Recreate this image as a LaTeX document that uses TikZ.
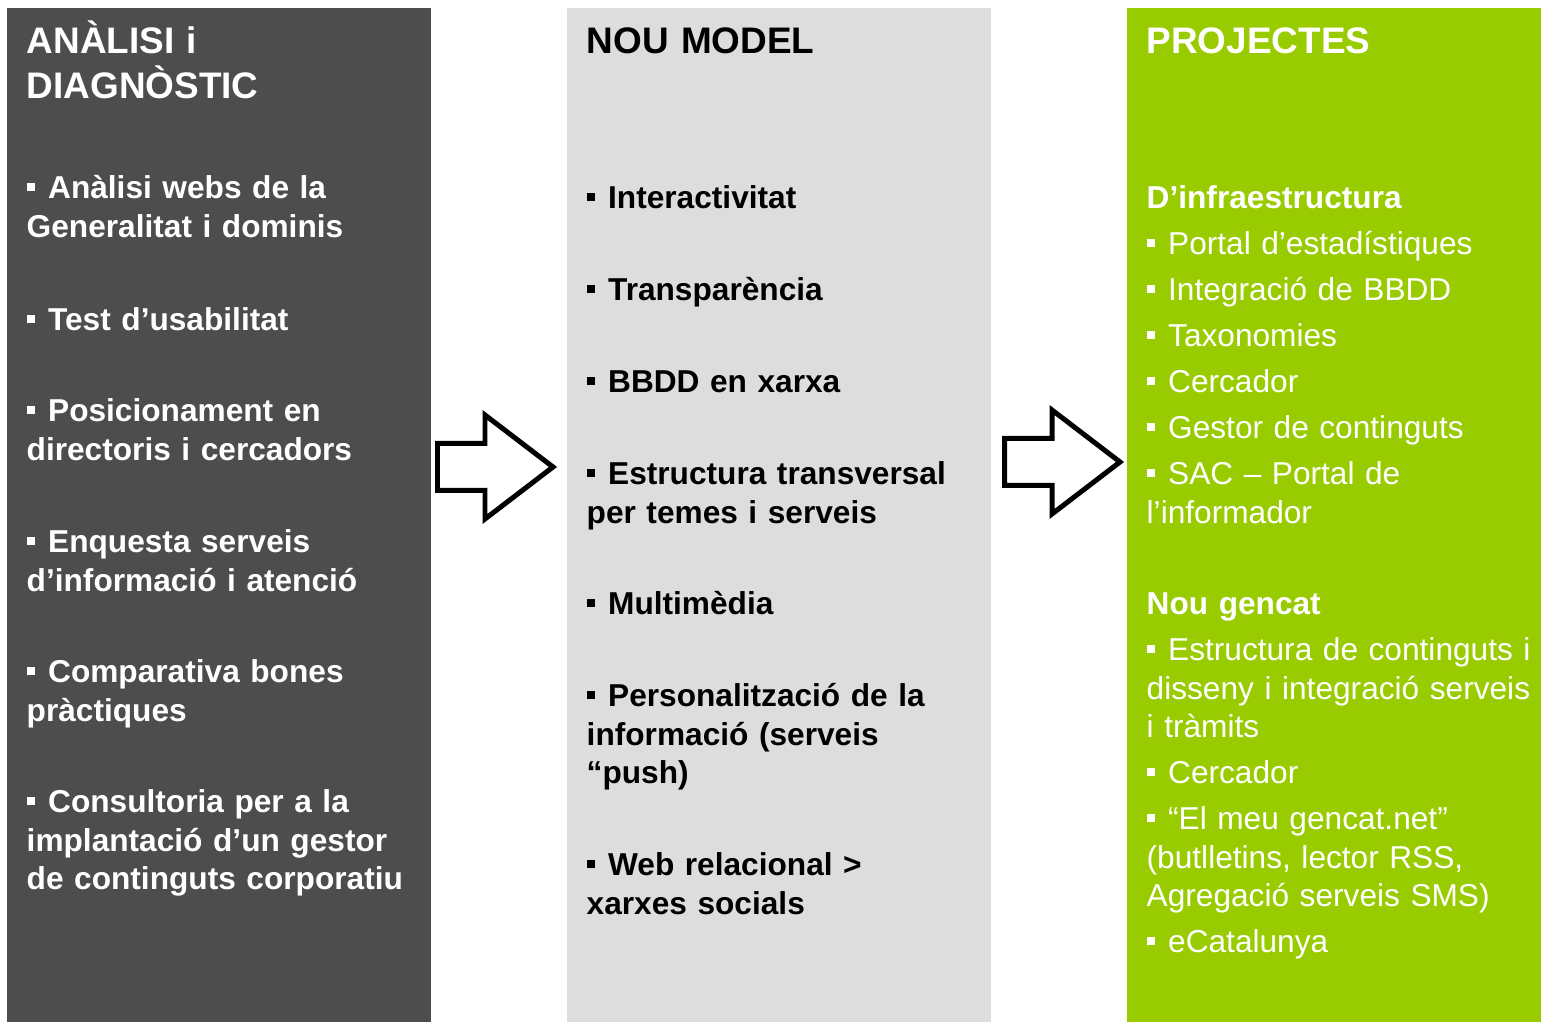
\documentclass[tikz,border=0pt]{standalone}
\usepackage{fontspec}
\setmainfont{Liberation Sans}
\usepackage{tikz}
\usetikzlibrary{positioning}
\definecolor{diaggray}{HTML}{4D4D4D}
\definecolor{modelgray}{HTML}{DDDDDD}
\definecolor{projgreen}{HTML}{99CC00}
\newcommand{\bul}{\rule[2.2pt]{2.4pt}{2.4pt}\hspace{3.7pt}}

\tikzset{
  column/.style={anchor=north west, minimum height=10.15cm, inner sep=0pt},
  txt/.style={anchor=base west, inner sep=0pt, text width=4.2cm, align=left},
  hd/.style={txt, font=\fontsize{10.5}{12.8}\selectfont\bfseries},
  bitem/.style={txt, font=\fontsize{9}{10.81}\selectfont\bfseries},
  ritem/.style={txt, font=\fontsize{9}{10.81}\selectfont},
  bigarrow/.style={draw=black, fill=white, line width=1.42pt, miter limit=10}
}

\begin{document}
\begin{tikzpicture}[x=0.01cm, y=-0.01cm]
  \useasboundingbox (0,0) rectangle (1541,1022);

  % columnes
  \node[column, minimum width=4.24cm, fill=diaggray] (diag) at (6,7) {};
  \node[column, minimum width=4.24cm, fill=modelgray] (model) at (566,7) {};
  \node[column, minimum width=4.15cm, fill=projgreen] (proj) at (1126,7) {};

  % fletxes
  \begin{scope}[shift={(437.5,467)}]
    \draw[bigarrow] (0,-23.5) -- (47.5,-23.5) -- (47.5,-52) -- (115.5,0)
      -- (47.5,52) -- (47.5,23.5) -- (0,23.5) -- cycle;
  \end{scope}
  \begin{scope}[shift={(1004.5,462)}]
    \draw[bigarrow] (0,-23.5) -- (47.5,-23.5) -- (47.5,-52) -- (115.5,0)
      -- (47.5,52) -- (47.5,23.5) -- (0,23.5) -- cycle;
  \end{scope}

  % analisi i diagnostic
  \node[hd, text=white] (diagT) at (26,54) {ANÀLISI i\\DIAGNÒSTIC};
  \node[bitem, text=white] (d1) at (26,199) {\bul Anàlisi webs de la\\Generalitat i dominis};
  \node[bitem, text=white] (d2) at (26,331) {\bul Test d’usabilitat};
  \node[bitem, text=white] (d3) at (26,422) {\bul Posicionament en\\directoris i cercadors};
  \node[bitem, text=white] (d4) at (26,553) {\bul Enquesta serveis\\d’informació i atenció};
  \node[bitem, text=white] (d5) at (26,683) {\bul Comparativa bones\\pràctiques};
  \node[bitem, text=white] (d6) at (26,813) {\bul Consultoria per a la\\implantació d’un gestor\\de continguts corporatiu};

  % nou model
  \node[hd] (modelT) at (586,54) {NOU MODEL};
  \node[bitem] (m1) at (586,209) {\bul Interactivitat};
  \node[bitem] (m2) at (586,301) {\bul Transparència};
  \node[bitem] (m3) at (586,393) {\bul BBDD en xarxa};
  \node[bitem] (m4) at (586,485) {\bul Estructura transversal\\per temes i serveis};
  \node[bitem] (m5) at (586,615) {\bul Multimèdia};
  \node[bitem] (m6) at (586,707) {\bul Personalització de la\\informació (serveis\\“push)};
  \node[bitem] (m7) at (586,876) {\bul Web relacional >\\xarxes socials};

  % projectes
  \node[hd, text=white] (projT) at (1146,54) {PROJECTES};
  \node[bitem, text=white] (infra) at (1146,209) {D’infraestructura};
  \node[ritem, text=white] (p1) at (1146,255) {\bul Portal d’estadístiques};
  \node[ritem, text=white] (p2) at (1146,301) {\bul Integració de BBDD};
  \node[ritem, text=white] (p3) at (1146,347) {\bul Taxonomies};
  \node[ritem, text=white] (p4) at (1146,393) {\bul Cercador};
  \node[ritem, text=white] (p5) at (1146,439) {\bul Gestor de continguts};
  \node[ritem, text=white] (p6) at (1146,485) {\bul SAC – Portal de\\l’informador};
  \node[bitem, text=white] (gencat) at (1146,615) {Nou gencat};
  \node[ritem, text=white] (g1) at (1146,661) {\bul Estructura de continguts i\\disseny i integració serveis\\i tràmits};
  \node[ritem, text=white] (g2) at (1146,784) {\bul Cercador};
  \node[ritem, text=white] (g3) at (1146,830) {\bul “El meu gencat.net”\\(butlletins, lector RSS,\\Agregació serveis SMS)};
  \node[ritem, text=white] (g4) at (1146,953) {\bul eCatalunya};
\end{tikzpicture}
\end{document}
